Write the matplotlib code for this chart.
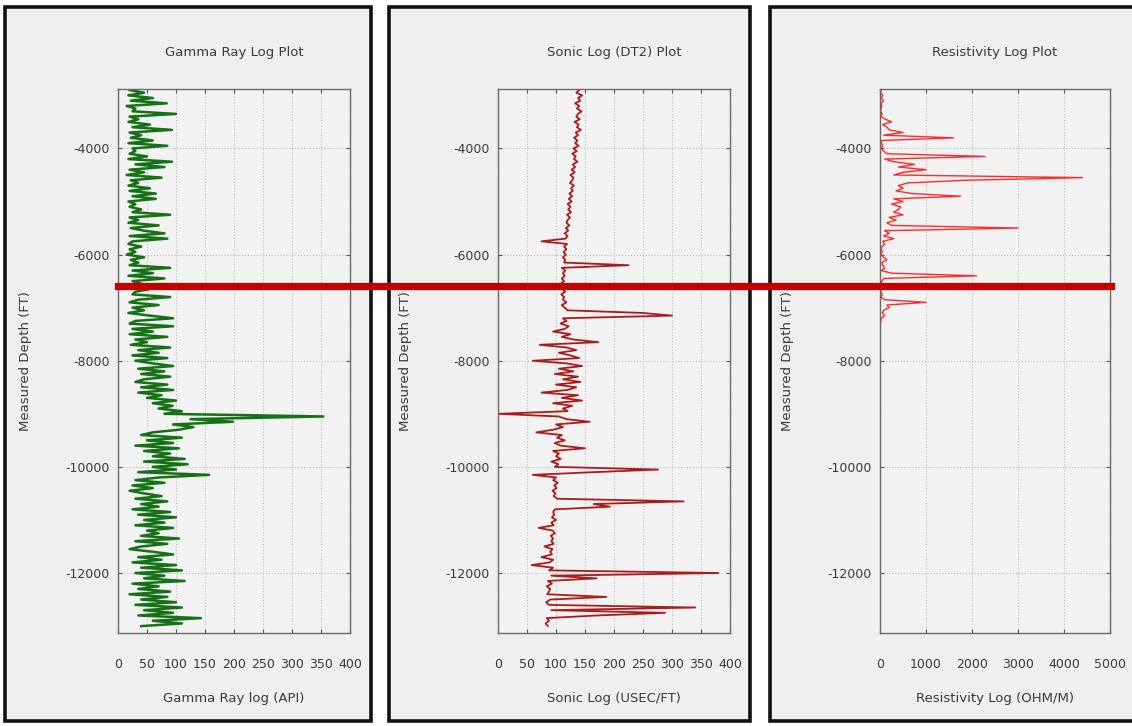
import numpy as np
import matplotlib
matplotlib.use("Agg")
import matplotlib.pyplot as plt
from matplotlib.patches import Rectangle
from matplotlib.lines import Line2D

plt.rcParams["axes.unicode_minus"] = False

# depth samples every 50 ft
depth = np.arange(-2900, -13001, -50)

gamma = [
    20, 45, 18, 60, 22, 84, 15, 30, 25, 100,
    20, 35, 18, 55, 25, 93, 20, 40, 22, 60,
    18, 85, 25, 30, 20, 50, 18, 93, 30, 80,
    20, 45, 15, 75, 22, 35, 18, 55, 20, 65,
    25, 65, 18, 30, 20, 40, 25, 90, 20, 35,
    18, 70, 22, 45, 80, 20, 85, 25, 18, 40,
    20, 30, 15, 45, 22, 35, 20, 90, 25, 60,
    18, 80, 25, 40, 20, 55, 30, 25, 90, 35,
    20, 70, 25, 45, 18, 55, 95, 30, 20, 95,
    25, 60, 20, 85, 30, 50, 22, 90, 35, 70,
    25, 85, 30, 60, 95, 35, 80, 40, 90, 45,
    30, 85, 40, 95, 35, 75, 50, 100, 60, 94,
    70, 110, 80, 354, 125, 198, 95, 130, 105, 60,
    40, 110, 50, 95, 30, 105, 45, 90, 60, 115,
    45, 120, 60, 100, 35, 157, 70, 30, 80, 25,
    60, 20, 45, 75, 30, 85, 40, 70, 25, 90,
    35, 100, 45, 80, 30, 95, 50, 70, 40, 105,
    30, 85, 40, 20, 60, 95, 35, 75, 25, 100,
    40, 110, 30, 80, 45, 115, 25, 70, 35, 90,
    20, 85, 40, 100, 30, 110, 45, 95, 35, 143,
    60, 110, 40,
]

sonic = [
    140, 135, 145, 138, 142, 133, 140, 136, 144, 138,
    135, 141, 132, 139, 136, 143, 134, 138, 131, 137,
    133, 139, 130, 136, 128, 134, 131, 137, 129, 133,
    127, 132, 125, 130, 128, 124, 131, 126, 129, 123,
    128, 122, 127, 120, 125, 121, 126, 119, 124, 120,
    118, 123, 117, 121, 115, 120, 116, 75, 119, 114,
    118, 113, 117, 112, 116, 114, 225, 110, 116, 112,
    115, 110, 114, 108, 113, 111, 116, 109, 114, 112,
    118, 110, 115, 120, 250, 300, 112, 118, 108, 122,
    115, 95, 125, 110, 130, 173, 72, 118, 135, 105,
    125, 140, 60, 118, 145, 105, 130, 98, 138, 112,
    142, 100, 135, 120, 75, 138, 110, 145, 95, 128,
    112, 120, 0, 105, 118, 158, 100, 112, 95, 66,
    110, 102, 115, 98, 108, 150, 95, 105, 100, 108,
    92, 104, 98, 276, 164, 60, 100, 95, 103, 97,
    101, 94, 99, 96, 102, 320, 165, 193, 98, 95,
    97, 93, 100, 92, 96, 70, 94, 98, 91, 95,
    92, 96, 80, 94, 90, 93, 75, 95, 89, 58,
    95, 88, 380, 92, 170, 86, 93, 84, 90, 88,
    85, 187, 90, 83, 88, 340, 92, 288, 170, 84,
    88, 82, 86,
]

# resistivity only recorded down to about -7300 ft
resist = [
    30, 10, 60, 20, 80, 15, 40, 25, 10, 50,
    20, 120, 250, 60, 150, 200, 500, 80, 1600, 40,
    30, 60, 20, 80, 150, 2280, 100, 300, 750, 400,
    1000, 500, 300, 4400, 1850, 600, 400, 500, 350, 700,
    1750, 300, 500, 250, 450, 400, 300, 500, 200, 350,
    150, 250, 3000, 100, 200, 80, 300, 60, 100, 40,
    30, 50, 20, 80, 150, 40, 60, 100, 30, 250,
    2100, 80, 40, 20, 10, 30, 15, 50, 20, 100,
    1000, 150, 200, 80, 50, 100, 30, 20, 10,
]

marker_depth = -6590

titles = ["Gamma Ray Log Plot", "Sonic Log (DT2) Plot", "Resistivity Log Plot"]
xlabels = ["Gamma Ray log (API)", "Sonic Log (USEC/FT)", "Resistivity Log (OHM/M)"]
xticks = [np.arange(0, 401, 50), np.arange(0, 401, 50), np.arange(0, 5001, 1000)]

W, H = 1132, 726
fig = plt.figure(figsize=(W / 100, H / 100), dpi=100)
fig.patch.set_facecolor("white")

def fx(px):
    return px / W

def fy(py):
    return 1 - py / H

# panel frames (pixel boxes: left, right)
for left, right in [(5, 371), (389, 750), (770, 1145)]:
    fig.add_artist(Rectangle((fx(left), fy(721)), fx(right - left), (718 - 4) / H,
                             transform=fig.transFigure, facecolor="#efefef",
                             edgecolor="#111111", linewidth=2.6, zorder=0))

ax_left = [118, 498, 880]
ax_right = [350, 730, 1110]
top_px, bot_px = 89, 633

txt = "#3a3a3a"
axes = []
for i in range(3):
    ax = fig.add_axes([fx(ax_left[i]), fy(bot_px), fx(ax_right[i] - ax_left[i]),
                       (bot_px - top_px) / H])
    ax.set_facecolor("#f2f2f2")
    for s in ax.spines.values():
        s.set_color("#6a6a6a")
        s.set_linewidth(1.0)
    ax.set_ylim(-13130, -2880)
    ax.set_xlim(xticks[i][0], xticks[i][-1])
    ax.set_xticks(xticks[i])
    ax.set_yticks([-4000, -6000, -8000, -10000, -12000])
    ax.grid(True, linestyle=":", color="#bdbdbd", linewidth=0.8)
    ax.tick_params(direction="in", top=True, right=True, length=3, color="#555555",
                   labelsize=9, labelcolor=txt)
    ax.tick_params(axis="x", pad=18)
    ax.tick_params(axis="y", pad=6)
    ax.set_ylabel("Measured Depth (FT)", fontsize=9.5, color=txt, labelpad=24)
    ax.set_xlabel(xlabels[i], fontsize=9.5, color=txt, labelpad=15)
    ax.set_title(titles[i], fontsize=9.5, color=txt, pad=24)
    axes.append(ax)

axes[0].plot(gamma, depth, color="#167016", linewidth=1.8)
axes[1].plot(sonic, depth, color="#a81c1c", linewidth=1.3)
axes[2].plot(resist, depth[:len(resist)], color="#ff2a2a", linewidth=1.0)

# thick horizontal marker across all three tracks
y_pix = axes[0].transData.transform((0, marker_depth))[1]
y_fig = fig.transFigure.inverted().transform((0, y_pix))[1]
fig.add_artist(Line2D([fx(118), fx(1111)], [y_fig, y_fig], transform=fig.transFigure,
                      color="#c40000", linewidth=5.2, zorder=10))

fig.savefig("out.png", dpi=100)
